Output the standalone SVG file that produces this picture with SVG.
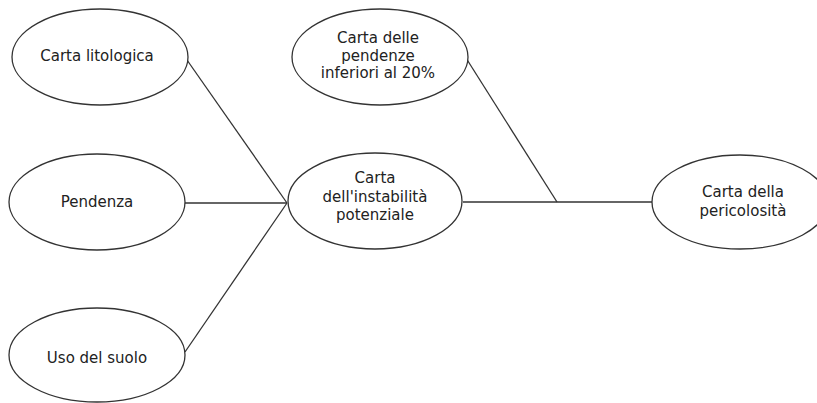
<svg xmlns="http://www.w3.org/2000/svg" width="817" height="403" viewBox="0 0 817 403">
<style>
.node ellipse{fill:#fff;stroke:#333;stroke-width:1.3}
.node text{font-family:"DejaVu Sans","Liberation Sans",sans-serif;font-size:15px;fill:#222;text-anchor:middle}
.conn line{stroke:#333;stroke-width:1.3}
</style>
<rect width="817" height="403" fill="#fff"/>
<g id="connectors" class="conn">
<line x1="187" y1="60" x2="287" y2="203"/>
<line x1="185" y1="203" x2="287" y2="203"/>
<line x1="185" y1="352" x2="287" y2="203"/>
<line x1="463" y1="202" x2="652" y2="202"/>
<line x1="466" y1="58" x2="557" y2="202"/>
</g>
<g id="n-litologica" class="node">
<ellipse cx="100" cy="57" rx="88" ry="48"/>
<text x="97" y="61">Carta litologica</text>
</g>
<g id="n-pendenza" class="node">
<ellipse cx="97" cy="202" rx="88" ry="48"/>
<text x="97" y="207">Pendenza</text>
</g>
<g id="n-uso" class="node">
<ellipse cx="97" cy="355" rx="88" ry="47"/>
<text x="97" y="363">Uso del suolo</text>
</g>
<g id="n-pendenze20" class="node">
<ellipse cx="380" cy="57" rx="88" ry="48"/>
<text x="378" y="43">Carta delle</text>
<text x="378" y="60.5">pendenze</text>
<text x="378" y="78">inferiori al 20%</text>
</g>
<g id="n-instabilita" class="node">
<ellipse cx="375" cy="201" rx="87" ry="48"/>
<text x="375" y="183">Carta</text>
<text x="375" y="201.5">dell'instabilità</text>
<text x="375" y="220">potenziale</text>
</g>
<g id="n-pericolosita" class="node">
<ellipse cx="740" cy="202" rx="88" ry="47"/>
<text x="743" y="197">Carta della</text>
<text x="743" y="216">pericolosità</text>
</g>
</svg>
